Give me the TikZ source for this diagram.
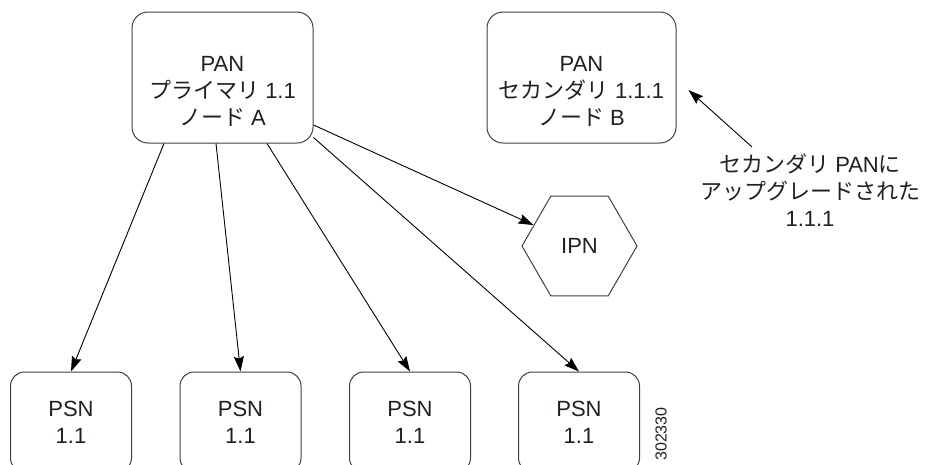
\documentclass[tikz,border=0pt]{standalone}
\usepackage{fontspec}
\setmainfont{Liberation Sans}
\newfontfamily\cjk{Noto Sans CJK JP}[Scale=1.0]
\newcommand\jp[1]{{\cjk #1}}
\usetikzlibrary{arrows.meta,shapes.geometric}
\definecolor{boxline}{HTML}{404040}
\definecolor{ink}{HTML}{231F20}
\begin{document}
\begin{tikzpicture}[x=1pt,y=-1pt,
  txt/.style={font=\fontsize{22}{27}\selectfont, text=ink, align=center},
  bigbox/.style={txt, draw=boxline, line width=1pt, rounded corners=16pt, minimum height=131pt, inner sep=0pt},
  psnbox/.style={txt, draw=boxline, line width=1pt, rounded corners=14pt, minimum width=121pt, minimum height=100pt, inner sep=0pt},
  hexbox/.style={txt, draw=boxline, line width=1pt, regular polygon, regular polygon sides=6, minimum size=115pt, inner sep=0pt},
  arr/.style={draw=black, line width=0.9pt, -{Stealth[length=15pt,width=10pt,inset=2pt]}}]
\useasboundingbox (0,0) rectangle (931,464);
\clip (0,0) rectangle (931,464);
\node[bigbox, minimum width=181pt] (A) at (222.5,77.5) {\rule{0pt}{42pt}PAN\\\jp{プライマリ} 1.1\\\jp{ノード} A};
\node[bigbox, minimum width=189pt] (B) at (581.5,77.5) {\rule{0pt}{42pt}PAN\\\jp{セカンダリ} 1.1.1\\\jp{ノード} B};
\node[hexbox] (ipn) at (579.5,246) {IPN};
\node[psnbox] (p1) at (71,422) {PSN\\1.1};
\node[psnbox] (p2) at (240.5,422) {PSN\\1.1};
\node[psnbox] (p3) at (410,422) {PSN\\1.1};
\node[psnbox] (p4) at (579,422) {PSN\\1.1};
\node[txt] (lbl) at (810,190) {\jp{セカンダリ} PAN\jp{に}\\\jp{アップグレードされた}\\1.1.1};
\node[rotate=90, font=\fontsize{16}{16}\selectfont, text=ink] (id) at (661,434) {302330};
\draw[arr] ([xshift=-58.5pt]A.south) -- (p1.north);
\draw[arr] ([xshift=-6.5pt]A.south) -- (p2.north);
\draw[arr] ([xshift=44.5pt]A.south) -- (p3.north);
\draw[arr] ([yshift=6pt]A.south east) -- (p4.north);
\draw[arr] ([yshift=-47.5pt]A.east) -- (ipn);
\coordinate (lt) at (752,147);
\draw[arr] (lt) -- ([xshift=12pt,yshift=-12.5pt]B.east);
\end{tikzpicture}
\end{document}
